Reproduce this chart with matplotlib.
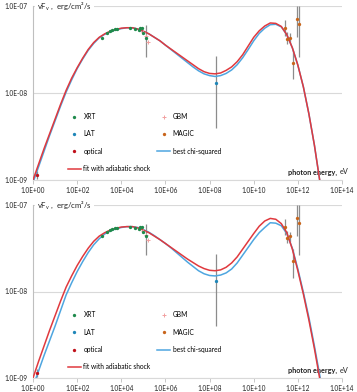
import numpy as np
import matplotlib
matplotlib.use("Agg")
import matplotlib.pyplot as plt
from matplotlib.lines import Line2D

plt.rcParams["font.family"] = ["Lato", "DejaVu Sans"]

# --- model curves (log10 E [eV], log10 vFv [erg/cm2/s]) ---
curve_logE = [0, 0.25, 0.5, 0.75, 1, 1.25, 1.5, 1.75, 2, 2.25, 2.5, 2.75, 3, 3.25,
              3.5, 3.75, 4, 4.25, 4.5, 4.75, 5, 5.25, 5.5, 5.75, 6, 6.25, 6.5, 6.75,
              7, 7.25, 7.5, 7.75, 8, 8.25, 8.5, 8.75, 9, 9.25, 9.5, 9.75, 10, 10.25,
              10.5, 10.75, 11, 11.25, 11.5, 11.75, 12, 12.25, 12.5, 12.75, 13.0, 13.1]
top_red = [-9.00, -8.82, -8.64, -8.47, -8.30, -8.13, -7.97, -7.83, -7.71, -7.60,
           -7.50, -7.42, -7.36, -7.32, -7.29, -7.27, -7.255, -7.25, -7.25, -7.265,
           -7.29, -7.32, -7.36, -7.40, -7.45, -7.495, -7.54, -7.585, -7.63, -7.675,
           -7.72, -7.755, -7.775, -7.78, -7.77, -7.74, -7.70, -7.64, -7.56, -7.46,
           -7.36, -7.285, -7.23, -7.195, -7.20, -7.235, -7.33, -7.48, -7.68, -7.93,
           -8.24, -8.60, -9.02, -9.20]
top_blue = [-9.03, -8.85, -8.67, -8.49, -8.32, -8.15, -7.99, -7.85, -7.72, -7.61,
            -7.51, -7.43, -7.365, -7.325, -7.295, -7.275, -7.26, -7.25, -7.25, -7.265,
            -7.29, -7.32, -7.36, -7.40, -7.45, -7.50, -7.55, -7.60, -7.65, -7.70,
            -7.745, -7.78, -7.80, -7.81, -7.80, -7.775, -7.735, -7.675, -7.595, -7.50,
            -7.40, -7.315, -7.255, -7.215, -7.21, -7.24, -7.33, -7.48, -7.68, -7.93,
            -8.24, -8.60, -9.02, -9.20]
bot_red = [-9.00, -8.81, -8.63, -8.45, -8.28, -8.11, -7.95, -7.82, -7.70, -7.595,
           -7.50, -7.42, -7.36, -7.32, -7.29, -7.27, -7.255, -7.25, -7.25, -7.265,
           -7.29, -7.32, -7.36, -7.40, -7.445, -7.49, -7.535, -7.58, -7.625, -7.665,
           -7.705, -7.735, -7.755, -7.76, -7.75, -7.72, -7.67, -7.60, -7.51, -7.42,
           -7.33, -7.245, -7.185, -7.155, -7.165, -7.215, -7.32, -7.51, -7.76, -8.03,
           -8.33, -8.66, -9.02, -9.20]
bot_blue = [-9.10, -8.92, -8.74, -8.57, -8.40, -8.22, -8.04, -7.90, -7.77, -7.655,
            -7.55, -7.46, -7.39, -7.335, -7.30, -7.275, -7.26, -7.25, -7.25, -7.26,
            -7.285, -7.315, -7.355, -7.40, -7.445, -7.495, -7.55, -7.605, -7.66, -7.71,
            -7.76, -7.795, -7.815, -7.82, -7.81, -7.785, -7.74, -7.67, -7.58, -7.49,
            -7.40, -7.32, -7.26, -7.205, -7.21, -7.24, -7.33, -7.50, -7.74, -8.01,
            -8.30, -8.63, -8.98, -9.15]

# --- measured points ---
xrt_logE = [3.12, 3.35, 3.50, 3.60, 3.70, 3.80, 4.38, 4.64, 4.79, 4.86, 4.94, 4.97, 5.11]
xrt_logF = [-7.364, -7.314, -7.287, -7.276, -7.268, -7.264, -7.256, -7.268, -7.276,
            -7.256, -7.256, -7.314, -7.364]
xrt_bar_logE = [5.11]
xrt_bar_lo = [-7.583]
xrt_bar_hi = [-7.218]
gbm_logE = [4.86, 5.00, 5.12, 5.22]
gbm_logF = [-7.27, -7.30, -7.35, -7.41]
lat_logE = [8.27]
lat_logF = [-7.88]
lat_lo = [-8.40]
lat_hi = [-7.57]
opt_logE = [0.20]
opt_logF = [-8.94]
opt_lo = [-8.99]
opt_hi = [-8.90]
magic_logE = [11.42, 11.53, 11.64, 11.76, 11.94, 12.06]
magic_logF = [-7.256, -7.383, -7.364, -7.652, -7.153, -7.207]
magic_lo = [-7.345, -7.440, -7.429, -7.839, -7.360, -7.583]
magic_hi = [-7.161, -7.295, -7.307, -7.506, -7.00, -7.00]

xtick_pos = [0, 2, 4, 6, 8, 10, 12, 14]
xtick_lab = ["1.0E+00", "1.0E+02", "1.0E+04", "1.0E+06", "1.0E+08", "1.0E+10",
             "1.0E+12", "1.0E+14"]
ytick_pos = [-9, -8, -7]
ytick_lab = ["1.0E-09", "1.0E-08", "1.0E-07"]

C_RED = "#e0393e"
C_BLUE = "#4ea6e0"
C_XRT = "#1f8a4c"
C_LAT = "#1f86b8"
C_OPT = "#c0101a"
C_GBM = "#f2a0a0"
C_MAGIC = "#c8651b"
C_BAR = "#8c8c8c"


def p10(v):
    return 10.0 ** np.asarray(v, dtype=float)


def vbars(ax, xe, lo, hi, color=C_BAR):
    ax.vlines(p10(xe), p10(lo), p10(hi), color=color, lw=0.9, zorder=3)


def panel(ax, red, blue):
    ax.set_xscale("log")
    ax.set_yscale("log")
    ax.set_xlim(1e0, 1e14)
    ax.set_ylim(1e-9, 1e-7)

    ax.plot(p10(curve_logE), p10(blue), color=C_BLUE, lw=1.1, zorder=4)
    ax.plot(p10(curve_logE), p10(red), color=C_RED, lw=1.1, zorder=4)

    vbars(ax, xrt_bar_logE, xrt_bar_lo, xrt_bar_hi)
    vbars(ax, lat_logE, lat_lo, lat_hi)
    vbars(ax, opt_logE, opt_lo, opt_hi)
    vbars(ax, magic_logE, magic_lo, magic_hi)

    ax.plot(p10(gbm_logE), p10(gbm_logF), ls="none", marker="+", ms=3.5, mew=0.7,
            color=C_GBM, zorder=5)
    ax.plot(p10(xrt_logE), p10(xrt_logF), ls="none", marker="o", ms=2.4, mew=0,
            color=C_XRT, zorder=6)
    ax.plot(p10(lat_logE), p10(lat_logF), ls="none", marker="o", ms=2.4, mew=0,
            color=C_LAT, zorder=6)
    ax.plot(p10(opt_logE), p10(opt_logF), ls="none", marker="o", ms=2.4, mew=0,
            color=C_OPT, zorder=6)
    ax.plot(p10(magic_logE), p10(magic_logF), ls="none", marker="o", ms=2.4, mew=0,
            color=C_MAGIC, zorder=6)

    ax.set_xticks(p10(xtick_pos))
    ax.set_xticklabels(xtick_lab)
    ax.set_yticks(p10(ytick_pos))
    ax.set_yticklabels(ytick_lab)
    ax.minorticks_off()
    ax.tick_params(axis="x", length=3, width=0.6, color="#bfbfbf", pad=2,
                   labelsize=4.7, labelcolor="#222222")
    ax.tick_params(axis="y", length=0, pad=4, labelsize=4.7, labelcolor="#222222")
    ax.grid(axis="y", color="#d9d9d9", lw=0.8)
    ax.set_axisbelow(True)
    for s in ["top", "right"]:
        ax.spines[s].set_visible(False)
    ax.spines["left"].set_color("#bfbfbf")
    ax.spines["bottom"].set_color("#d9d9d9")
    ax.spines["left"].set_linewidth(0.8)
    ax.spines["bottom"].set_linewidth(0.8)

    ax.text(0.013, 1.0, r"vF$_{\mathregular{v}}$ ,  erg/cm²/s", transform=ax.transAxes,
            fontsize=5.6, va="center", ha="left", color="#222222", zorder=10,
            bbox=dict(fc="white", ec="none", pad=1.5), clip_on=False)
    ax.text(0.984, 0.046, "photon energy,", transform=ax.transAxes, fontsize=5.2,
            fontweight="bold", ha="right", va="center", color="#222222")
    ax.text(0.993, 0.046, "eV", transform=ax.transAxes, fontsize=5.2,
            ha="left", va="center", color="#222222", clip_on=False)

    handles = [
        Line2D([], [], ls="none", marker="o", ms=2.4, mew=0, color=C_XRT),
        Line2D([], [], ls="none", marker="o", ms=2.4, mew=0, color=C_LAT),
        Line2D([], [], ls="none", marker="o", ms=2.4, mew=0, color=C_OPT),
        Line2D([], [], color=C_RED, lw=1.1),
        Line2D([], [], ls="none", marker="+", ms=3.2, mew=0.7, color=C_GBM),
        Line2D([], [], ls="none", marker="o", ms=2.4, mew=0, color=C_MAGIC),
        Line2D([], [], color=C_BLUE, lw=1.1),
    ]
    labels = ["XRT", "LAT", "optical", "fit with adiabatic shock", "GBM", "MAGIC",
              "best chi-squared"]
    ax.legend(handles, labels, ncol=2, loc="upper left", bbox_to_anchor=(0.105, 0.40),
              frameon=False, fontsize=4.8, handlelength=1.9, handletextpad=0.4,
              labelspacing=1.55, columnspacing=1.0, borderaxespad=0)


fig = plt.figure(figsize=(3.57, 3.92), dpi=100)
ax_top = fig.add_axes([33 / 357, 1 - 180 / 392, 309 / 357, 174 / 392])
ax_bot = fig.add_axes([33 / 357, 1 - 378 / 392, 309 / 357, 173 / 392])
panel(ax_top, top_red, top_blue)
panel(ax_bot, bot_red, bot_blue)
fig.savefig("out.png", dpi=100)
